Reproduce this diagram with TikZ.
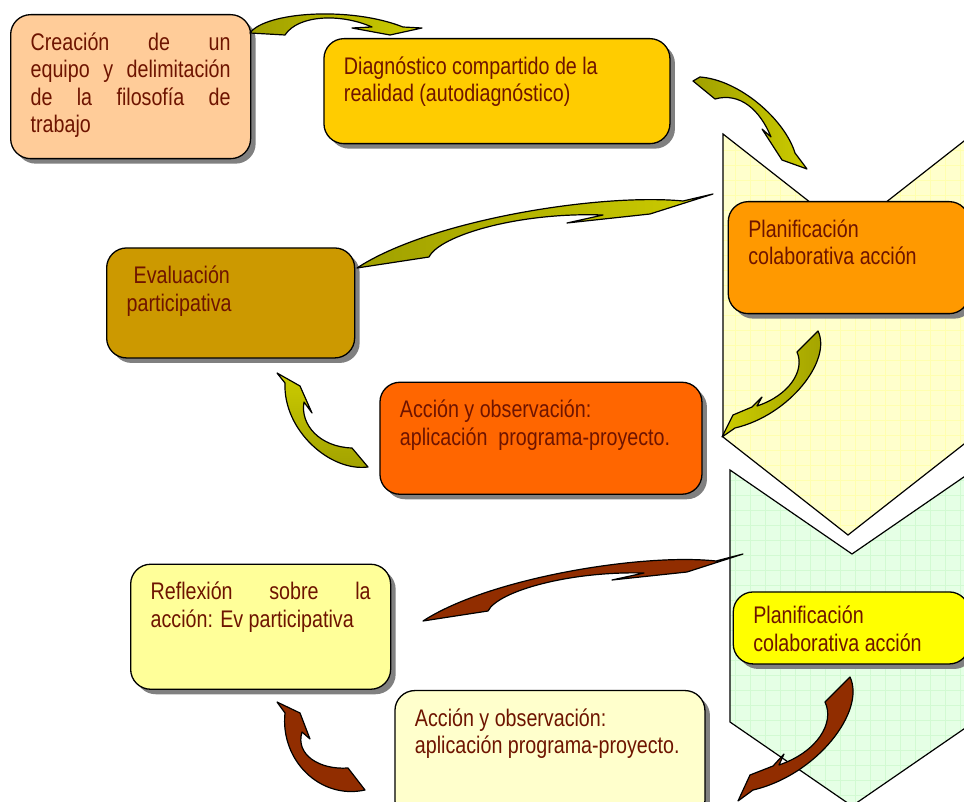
\documentclass[tikz,border=0pt]{standalone}
\usepackage{fontspec}
\setmainfont{Liberation Sans}[FakeStretch=0.82]
\usepackage{xcolor}
\usetikzlibrary{positioning,shadows}

\definecolor{txtbrown}{RGB}{110,20,0}
\definecolor{peach}{RGB}{255,204,153}
\definecolor{gold}{RGB}{255,204,0}
\definecolor{tangerine}{RGB}{255,153,0}
\definecolor{mustard}{RGB}{204,153,0}
\definecolor{flame}{RGB}{255,102,0}
\definecolor{paleyellow}{RGB}{255,255,153}
\definecolor{lemon}{RGB}{255,255,0}
\definecolor{cream}{RGB}{255,255,204}
\definecolor{mint}{RGB}{229,255,229}
\definecolor{creamgrid}{RGB}{255,255,175}
\definecolor{mintgrid}{RGB}{210,250,210}
\definecolor{oliveD}{RGB}{160,160,0}
\definecolor{oliveL}{RGB}{204,204,0}
\definecolor{rust}{RGB}{145,45,0}

\begin{document}
\begin{tikzpicture}[x=1pt, y=-1pt,
    stage/.style={rectangle, draw, line width=1.3pt, rounded corners=20pt, inner xsep=20pt, inner ysep=18pt, text=txtbrown, font=\fontsize{24}{27.5}\selectfont, drop shadow={shadow xshift=5pt, shadow yshift=-5pt, fill=black!50, opacity=1}},
    chevron/.style={draw, line width=1.2pt},
    swoosh/.style={draw, line width=1.2pt, line join=round},
    olive/.style={swoosh, left color=oliveD, right color=oliveL},
    rustarrow/.style={swoosh, fill=rust}
]
    \useasboundingbox (0,0) rectangle (964,802);
    \clip (0,0) rectangle (964,802);

    % big chevrons on the right
    \draw[chevron, fill=cream, path picture={\draw[creamgrid, line width=0.5pt, step=15pt] (path picture bounding box.south west) grid (path picture bounding box.north east);}]
        (723,134) -- (848,232) -- (973,134) -- (973,437) -- (848,535) -- (723,437) -- cycle;
    \draw[chevron, fill=mint, path picture={\draw[mintgrid, line width=0.5pt, step=15pt] (path picture bounding box.south west) grid (path picture bounding box.north east);}]
        (730,470) -- (852,554) -- (974,470) -- (974,722) -- (852,806) -- (730,722) -- cycle;

    % first cycle
    \node[stage, fill=peach, anchor=north west] (crea) at (10,14)
        {\parbox[c][108pt][t]{200pt}{Creación de un\linebreak equipo y delimitación\linebreak de la filosofía de\linebreak trabajo}};
    \node[stage, fill=gold, below right=24pt and 72pt of crea.north east] (diag)
        {\parbox[c][69pt][t]{306pt}{Diagnóstico compartido de la\\ realidad (autodiagnóstico)}};
    \node[stage, fill=tangerine, below right=163pt and 57pt of diag.north east] (planA)
        {\parbox[c][76pt][t]{201pt}{Planificación\\ colaborativa acción}};
    \node[stage, fill=mustard, below right=88pt and 96pt of crea.south west] (eval)
        {\parbox[c][74pt][t]{208pt}{\hspace*{7pt}Evaluación\\ participativa}};
    \node[stage, fill=flame, below right=23pt and 24pt of eval.south east] (accA)
        {\parbox[c][76pt][t]{282pt}{Acción y observación:\\ \mbox{aplicación\ \ programa-proyecto.}}};

    % second cycle
    \node[stage, fill=paleyellow, below right=205pt and 24pt of eval.south west] (refl)
        {\parbox[c][89pt][t]{220pt}{Reflexión sobre la\linebreak acción: Ev participativa}};
    \node[stage, fill=lemon, inner ysep=14pt, below right=277pt and 5pt of planA.south west] (planB)
        {\parbox[c][44pt][t]{196pt}{Planificación\\ colaborativa acción}};
    \node[stage, fill=cream, below right=0pt and 3pt of refl.south east] (accB)
        {\parbox[c][94pt][t]{270pt}{Acción y observación:\\ \mbox{aplicación programa-proyecto.}}};

    % curved arrows, first cycle
    \draw[olive] (250,33) .. controls (265,12) and (350,6) .. (403,27) -- (422,28) -- (390,35) -- (352,28) -- (372,27)
        .. controls (340,13) and (298,15) .. (285,35) -- cycle;
    \draw[olive] (700,77) .. controls (740,80) and (785,120) .. (795,153) -- (807,169) -- (782,160) -- (762,129) -- (771,137)
        .. controls (760,110) and (740,92) .. (715,99) -- (693,81) -- cycle;
    \draw[olive, left color=oliveL, right color=oliveD] (722,437) -- (733,415) -- (752,407) -- (762,397) -- (757,406)
        .. controls (790,395) and (805,370) .. (797,352) -- (818,331) .. controls (832,360) and (790,415) .. (735,428) -- cycle;
    \draw[swoosh, top color=oliveL, bottom color=oliveD] (277,373) -- (300,386) -- (312,413) -- (304,402)
        .. controls (300,425) and (320,447) .. (352,448) -- (368,467) .. controls (330,472) and (283,430) .. (285,383) -- cycle;
    \draw[olive] (357,268) -- (429,257) .. controls (440,235) and (520,212) .. (603,215) -- (567,223) -- (650,214) -- (713,194) -- (683,201)
        .. controls (600,193) and (430,220) .. (357,268) -- cycle;

    % curved arrows, second cycle
    \draw[rustarrow] (423,621) -- (488,611) .. controls (498,591) and (570,571) .. (644,573) -- (612,580) -- (687,572) -- (743,554) -- (716,561)
        .. controls (642,553) and (489,578) .. (423,621) -- cycle;
    \draw[rustarrow] (738,801) -- (750,775) -- (773,766) -- (784,754) -- (779,765)
        .. controls (817,752) and (835,723) .. (825,702) -- (850,677) .. controls (866,711) and (817,775) .. (753,790) -- cycle;
    \draw[rustarrow] (277,702) -- (300,713) -- (310,739) -- (302,732)
        .. controls (295,755) and (320,770) .. (348,768) -- (365,790) .. controls (320,800) and (280,760) .. (285,713) -- cycle;
\end{tikzpicture}
\end{document}
